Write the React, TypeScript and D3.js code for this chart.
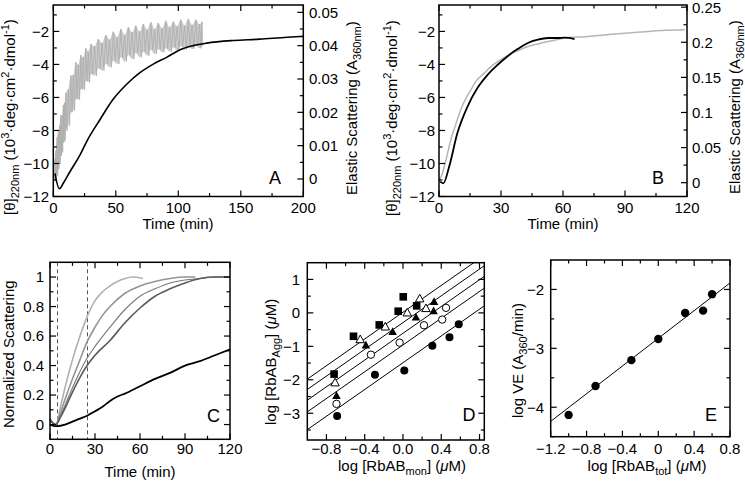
import React from "react";
import * as d3 from "d3";

const FONT = "'Liberation Sans', Arial, Helvetica, sans-serif";

// ---------- Panel A ----------
const aCdTime = [1.3, 4.8, 8, 13.3, 21.3, 26.7, 37.3, 48, 58.7, 69.3, 80, 90.7, 101, 112, 122.7, 144, 165, 187, 200];
const aCdValue = [-10.6, -11.53, -11.2, -10.5, -9.5, -8.67, -7.35, -6.1, -5.2, -4.5, -3.98, -3.57, -3.12, -2.86, -2.71, -2.55, -2.47, -2.35, -2.3];
const aScTime = [1, 2, 3, 4, 5, 6, 7, 8, 9, 10, 12, 14, 16, 18, 20, 22, 24, 26, 28, 30, 33, 36, 39, 42, 45, 48, 51, 54, 57, 60, 63, 66, 69, 72, 75, 78, 81, 84, 87, 90, 93, 96, 99, 102, 105, 108, 111, 114, 117, 119];
const aScHigh = [0.006, 0.0085, 0.0125, 0.014, 0.016, 0.0192, 0.019, 0.0222, 0.0228, 0.0258, 0.027, 0.031, 0.0312, 0.035, 0.0342, 0.0372, 0.0365, 0.0392, 0.0382, 0.0405, 0.0398, 0.042, 0.0408, 0.0432, 0.0418, 0.0442, 0.0425, 0.045, 0.0432, 0.0455, 0.044, 0.046, 0.0442, 0.0465, 0.0448, 0.047, 0.045, 0.0468, 0.0452, 0.0475, 0.0455, 0.0472, 0.0458, 0.0478, 0.046, 0.048, 0.0462, 0.0478, 0.0465, 0.0472];
const aScLow = [-0.0005, 0.0005, 0.001, 0.003, 0.0045, 0.007, 0.008, 0.011, 0.0115, 0.0145, 0.016, 0.02, 0.0205, 0.024, 0.0238, 0.027, 0.0268, 0.0295, 0.029, 0.0315, 0.031, 0.0332, 0.0325, 0.0345, 0.0335, 0.0355, 0.0345, 0.0365, 0.0352, 0.0372, 0.036, 0.0378, 0.0365, 0.0382, 0.037, 0.0388, 0.0375, 0.039, 0.038, 0.0392, 0.0382, 0.0395, 0.0385, 0.0398, 0.0388, 0.0398, 0.039, 0.04, 0.0392, 0.0398];

// ---------- Panel B ----------
const bCdTime = [0.5, 2.1, 4.9, 8.9, 13.8, 18.6, 23.5, 28.4, 33.2, 38, 43, 47.8, 52.7, 57.5, 61, 65.6];
const bCdValue = [-11.1, -11.2, -10.2, -8.16, -6.55, -5.43, -4.63, -4.02, -3.5, -3.07, -2.7, -2.5, -2.4, -2.4, -2.38, -2.46];
const bScTime = [0, 1.5, 3, 5.7, 8, 10.5, 13, 15.4, 18, 21.9, 25, 28.4, 31.5, 34.8, 39, 43, 47, 51, 56, 60.8, 70.5, 80.2, 90, 99.7, 109.4, 119];
const bScValue = [0.0014, 0.012, 0.0276, 0.061, 0.082, 0.104, 0.12, 0.132, 0.145, 0.156, 0.165, 0.1725, 0.178, 0.184, 0.189, 0.194, 0.197, 0.2, 0.203, 0.206, 0.208, 0.2105, 0.213, 0.215, 0.217, 0.218];

// ---------- Panel C ----------
const c1Time = [0, 2, 4, 7, 10, 15, 20, 24.7, 30, 35, 40, 45, 50, 55, 62];
const c1Value = [0.04, 0.01, 0.0, 0.12, 0.25, 0.44, 0.6, 0.73, 0.84, 0.9, 0.94, 0.97, 0.99, 1.0, 0.99];
const c2Time = [0, 2, 4, 7, 10, 15, 20, 24.7, 30, 35, 40, 50, 60, 70, 80, 90, 97];
const c2Value = [0.04, 0.01, 0.0, 0.08, 0.17, 0.31, 0.44, 0.56, 0.66, 0.74, 0.8, 0.89, 0.94, 0.97, 0.99, 1.0, 1.0];
const c3Time = [0, 2, 4, 7, 10, 15, 20, 24.7, 30, 40, 50, 60, 70, 80, 90, 100, 110, 120];
const c3Value = [0.03, 0.01, 0.0, 0.06, 0.13, 0.25, 0.36, 0.45, 0.53, 0.66, 0.78, 0.87, 0.92, 0.96, 0.98, 0.99, 1.0, 1.0];
const c4Value = [0.03, 0.01, 0.0, 0.05, 0.11, 0.22, 0.32, 0.4, 0.47, 0.57, 0.69, 0.79, 0.87, 0.92, 0.96, 0.99, 1.0, 1.0];
const c5Time = [0, 3, 5, 10, 15, 20, 24.7, 30, 35, 40, 45, 50, 60, 70, 80, 90, 100, 110, 120];
const c5Value = [0.0, -0.01, -0.01, 0.0, 0.02, 0.04, 0.06, 0.09, 0.12, 0.16, 0.19, 0.21, 0.26, 0.31, 0.35, 0.4, 0.43, 0.47, 0.51];
const cDashTimes = [5, 25];

// ---------- Panel D ----------
const dSquareX = [-0.72, -0.517, -0.248, -0.05, 0.003, 0.143];
const dSquareY = [-1.83, -0.7, -0.36, 0.05, 0.48, 0.21];
const dOpenTriX = [-0.71, -0.447, -0.185, 0.045, 0.175, 0.24];
const dOpenTriY = [-2.09, -0.8, -0.42, 0.0, 0.42, 0.13];
const dFillTriX = [-0.695, -0.388, -0.108, 0.136, 0.325, 0.32];
const dFillTriY = [-2.48, -0.97, -0.57, -0.14, 0.33, 0.05];
const dOpenCircX = [-0.695, -0.335, -0.035, 0.22, 0.45, 0.41];
const dOpenCircY = [-2.72, -1.25, -0.89, -0.37, 0.15, -0.2];
const dFillCircX = [-0.688, -0.293, 0.014, 0.307, 0.486, 0.583];
const dFillCircY = [-3.08, -1.85, -1.72, -0.98, -0.73, -0.34];
const dFitSlope = 2.0;
const dFitIntercepts = [0.02, -0.29, -0.61, -0.96, -1.49];

// ---------- Panel E ----------
const eX = [-1.0, -0.7, -0.3, 0.0, 0.3, 0.5, 0.6];
const eY = [-4.13, -3.64, -3.2, -2.84, -2.4, -2.36, -2.08];
const eFitX = [-1.2, 0.8];
const eFitY = [-4.24, -1.89];

type Sc = d3.ScaleLinear<number, number>;
const MAJ = 6;
const MIN = 3.5;
const minus = (s: string) => s.replace("-", "\u2212");

type Seg = [string, "n" | "sub" | "sup" | "it"];
function Rich({ segs }: { segs: Seg[] }) {
  let cur = 0;
  return (
    <>
      {segs.map(([t, m], i) => {
        const target = m === "sub" ? 4 : m === "sup" ? -6 : 0;
        const dy = target - cur;
        cur = target;
        return (
          <tspan key={i} dy={dy} fontSize={m === "sub" || m === "sup" ? 11 : 15} fontStyle={m === "it" ? "italic" : "normal"}>
            {t}
          </tspan>
        );
      })}
    </>
  );
}

function XTicks({ sx, top, bottom, majors, minors, labels, labelY }: { sx: Sc; top: number; bottom: number; majors: number[]; minors: number[]; labels: string[]; labelY: number }) {
  return (
    <g stroke="#000" strokeWidth={1.2}>
      {majors.map((v, i) => (
        <g key={"M" + i}>
          <line x1={sx(v)} x2={sx(v)} y1={bottom} y2={bottom - MAJ} />
          <line x1={sx(v)} x2={sx(v)} y1={top} y2={top + MAJ} />
          <text x={sx(v)} y={labelY} textAnchor="middle" stroke="none" fill="#000" fontSize={15}>
            {labels[i]}
          </text>
        </g>
      ))}
      {minors.map((v, i) => (
        <g key={"m" + i}>
          <line x1={sx(v)} x2={sx(v)} y1={bottom} y2={bottom - MIN} />
          <line x1={sx(v)} x2={sx(v)} y1={top} y2={top + MIN} />
        </g>
      ))}
    </g>
  );
}

function YTicks({ sy, x, dir, majors, minors, labels, labelX, anchor }: { sy: Sc; x: number; dir: number; majors: number[]; minors: number[]; labels: string[] | null; labelX: number; anchor: string }) {
  return (
    <g stroke="#000" strokeWidth={1.2}>
      {majors.map((v, i) => (
        <g key={"M" + i}>
          <line x1={x} x2={x + dir * MAJ} y1={sy(v)} y2={sy(v)} />
          {labels && (
            <text x={labelX} y={sy(v)} dy="0.36em" textAnchor={anchor} stroke="none" fill="#000" fontSize={15}>
              {labels[i]}
            </text>
          )}
        </g>
      ))}
      {minors.map((v, i) => (
        <line key={"m" + i} x1={x} x2={x + dir * MIN} y1={sy(v)} y2={sy(v)} />
      ))}
    </g>
  );
}

function Frame({ sx, sy }: { sx: Sc; sy: Sc }) {
  const [x0, x1] = sx.range();
  const [y0, y1] = sy.range();
  return <rect x={x0} y={y1} width={x1 - x0} height={y0 - y1} fill="none" stroke="#000" strokeWidth={1.5} />;
}

function VTitle({ x, y, segs }: { x: number; y: number; segs: Seg[] }) {
  return (
    <text transform={`translate(${x},${y}) rotate(-90)`} fontSize={15} textAnchor="start" fill="#000">
      <Rich segs={segs} />
    </text>
  );
}

const lineGen = (sx: Sc, sy: Sc, xs: number[], ys: number[]) =>
  d3.line<number>().x((_, i) => sx(xs[i])).y((d) => sy(d)).curve(d3.curveMonotoneX)(ys) || "";

const cdTitle: Seg[] = [["[θ]", "n"], ["220nm", "sub"], [" (10", "n"], ["3", "sup"], ["·deg·cm", "n"], ["2", "sup"], ["·dmol", "n"], ["-1", "sup"], [")", "n"]];
const scTitle: Seg[] = [["Elastic Scattering (A", "n"], ["360nm", "sub"], [")", "n"]];

function PanelA() {
  const sx = d3.scaleLinear().domain([0, 200]).range([53.3, 303.3]);
  const syL = d3.scaleLinear().domain([-12, -0.4]).range([196.5, 5]);
  const syR = d3.scaleLinear().domain([-0.00525, 0.0522]).range([196.5, 5]);
  const area =
    d3
      .area<number>()
      .x((_, i) => sx(aScTime[i]))
      .y0((_, i) => syR(aScLow[i]))
      .y1((d) => syR(d))
      .curve(d3.curveMonotoneX)(aScHigh) || "";
  // noisy trace: zig-zag between the read upper and lower extents
  const zig: [number, number][] = [];
  aScTime.forEach((t, i) => {
    const next = i < aScTime.length - 1 ? aScTime[i + 1] : t + 1;
    zig.push([sx(t), syR(aScHigh[i])]);
    zig.push([sx((t + next) / 2), syR(aScLow[i])]);
  });
  const zigPath = d3.line()(zig) || "";
  const lMaj = [-12, -10, -8, -6, -4, -2];
  const rMaj = [0, 0.01, 0.02, 0.03, 0.04, 0.05];
  return (
    <g>
      <path d={area} fill="#cbcbcb" />
      <path d={zigPath} fill="none" stroke="#acacac" strokeWidth={0.8} />
      <path d={lineGen(sx, syL, aCdTime, aCdValue)} fill="none" stroke="#000" strokeWidth={1.6} />
      <Frame sx={sx} sy={syL} />
      <XTicks sx={sx} top={5} bottom={196.5} majors={[0, 50, 100, 150, 200]} minors={[25, 75, 125, 175]} labels={["0", "50", "100", "150", "200"]} labelY={213} />
      <YTicks sy={syL} x={53.3} dir={1} majors={lMaj} minors={[-11, -9, -7, -5, -3, -1]} labels={lMaj.map((v) => minus(String(v)))} labelX={49} anchor="end" />
      <YTicks sy={syR} x={303.3} dir={-1} majors={rMaj} minors={[0.005, 0.015, 0.025, 0.035, 0.045]} labels={["0", "0.01", "0.02", "0.03", "0.04", "0.05"]} labelX={309} anchor="start" />
      <text x={178} y={229} textAnchor="middle" fontSize={15}>Time (min)</text>
      <text x={275} y={184} textAnchor="middle" fontSize={18}>A</text>
      <VTitle x={15} y={215} segs={cdTitle} />
      <VTitle x={357} y={195} segs={scTitle} />
    </g>
  );
}

function PanelB() {
  const sx = d3.scaleLinear().domain([0, 120]).range([439, 687]);
  const syL = d3.scaleLinear().domain([-12, -0.4]).range([196.5, 5]);
  const syR = d3.scaleLinear().domain([-0.0197, 0.2531]).range([196.5, 5]);
  const lMaj = [-12, -10, -8, -6, -4, -2];
  return (
    <g>
      <path d={lineGen(sx, syR, bScTime, bScValue)} fill="none" stroke="#b5b5b5" strokeWidth={1.5} />
      <path d={lineGen(sx, syL, bCdTime, bCdValue)} fill="none" stroke="#000" strokeWidth={1.8} />
      <Frame sx={sx} sy={syL} />
      <XTicks sx={sx} top={5} bottom={196.5} majors={[0, 30, 60, 90, 120]} minors={[15, 45, 75, 105]} labels={["0", "30", "60", "90", "120"]} labelY={213} />
      <YTicks sy={syL} x={439} dir={1} majors={lMaj} minors={[-11, -9, -7, -5, -3, -1]} labels={lMaj.map((v) => minus(String(v)))} labelX={435} anchor="end" />
      <YTicks sy={syR} x={687} dir={-1} majors={[0, 0.05, 0.1, 0.15, 0.2, 0.25]} minors={[0.025, 0.075, 0.125, 0.175, 0.225]} labels={["0", "0.05", "0.1", "0.15", "0.2", "0.25"]} labelX={692} anchor="start" />
      <text x={563} y={229} textAnchor="middle" fontSize={15}>Time (min)</text>
      <text x={658} y={184} textAnchor="middle" fontSize={18}>B</text>
      <VTitle x={397} y={216} segs={cdTitle} />
      <VTitle x={740} y={194} segs={scTitle} />
    </g>
  );
}

function PanelC() {
  const sx = d3.scaleLinear().domain([0, 120]).range([50, 230]);
  const sy = d3.scaleLinear().domain([-0.1, 1.1]).range([439.3, 262.3]);
  const yMaj = [0, 0.2, 0.4, 0.6, 0.8, 1];
  const yMin = [0.1, 0.3, 0.5, 0.7, 0.9];
  return (
    <g>
      {cDashTimes.map((t) => (
        <line key={t} x1={sx(t)} x2={sx(t)} y1={262.3} y2={439.3} stroke="#555" strokeWidth={1} strokeDasharray="4,3" />
      ))}
      <path d={lineGen(sx, sy, c1Time, c1Value)} fill="none" stroke="#b0b0b0" strokeWidth={1.6} />
      <path d={lineGen(sx, sy, c2Time, c2Value)} fill="none" stroke="#959595" strokeWidth={1.6} />
      <path d={lineGen(sx, sy, c3Time, c3Value)} fill="none" stroke="#777" strokeWidth={1.1} />
      <path d={lineGen(sx, sy, c3Time, c4Value)} fill="none" stroke="#5a5a5a" strokeWidth={1.6} />
      <path d={lineGen(sx, sy, c5Time, c5Value)} fill="none" stroke="#000" strokeWidth={1.8} />
      <Frame sx={sx} sy={sy} />
      <XTicks sx={sx} top={262.3} bottom={439.3} majors={[0, 30, 60, 90, 120]} minors={[15, 45, 75, 105]} labels={["0", "30", "60", "90", "120"]} labelY={454} />
      <YTicks sy={sy} x={50} dir={1} majors={yMaj} minors={yMin} labels={["0", "0.2", "0.4", "0.6", "0.8", "1"]} labelX={44} anchor="end" />
      <YTicks sy={sy} x={230} dir={-1} majors={yMaj} minors={yMin} labels={null} labelX={0} anchor="start" />
      <text x={140} y={477} textAnchor="middle" fontSize={15}>Time (min)</text>
      <text x={213.5} y={422} textAnchor="middle" fontSize={18}>C</text>
      <VTitle x={14} y={428} segs={[["Normalized Scattering", "n"]]} />
    </g>
  );
}

function triPath(cx: number, cy: number, s: number) {
  const h = s * 0.9;
  return `M${cx},${cy - h * 0.6} L${cx + s / 2},${cy + h * 0.4} L${cx - s / 2},${cy + h * 0.4} Z`;
}

function PanelD() {
  const sx = d3.scaleLinear().domain([-1.0, 0.85]).range([307.3, 484.3]);
  const sy = d3.scaleLinear().domain([-3.8, 1.5]).range([440, 262.7]);
  const yMaj = [-3, -2, -1, 0, 1];
  return (
    <g>
      <defs>
        <clipPath id="clipD">
          <rect x={307.3} y={262.7} width={177} height={177.3} />
        </clipPath>
      </defs>
      <g clipPath="url(#clipD)">
        {dFitIntercepts.map((b, i) => (
          <line key={i} x1={sx(-1.0)} x2={sx(0.85)} y1={sy(b + dFitSlope * -1.0)} y2={sy(b + dFitSlope * 0.85)} stroke="#000" strokeWidth={1} />
        ))}
      </g>
      {dSquareX.map((x, i) => (
        <rect key={"s" + i} x={sx(x) - 3.8} y={sy(dSquareY[i]) - 3.8} width={7.6} height={7.6} fill="#000" />
      ))}
      {dOpenTriX.map((x, i) => (
        <path key={"ot" + i} d={triPath(sx(x), sy(dOpenTriY[i]), 8.5)} fill="#fff" stroke="#000" strokeWidth={1} />
      ))}
      {dFillTriX.map((x, i) => (
        <path key={"ft" + i} d={triPath(sx(x), sy(dFillTriY[i]), 8.5)} fill="#000" />
      ))}
      {dOpenCircX.map((x, i) => (
        <circle key={"oc" + i} cx={sx(x)} cy={sy(dOpenCircY[i])} r={3.7} fill="#fff" stroke="#000" strokeWidth={1} />
      ))}
      {dFillCircX.map((x, i) => (
        <circle key={"fc" + i} cx={sx(x)} cy={sy(dFillCircY[i])} r={4} fill="#000" />
      ))}
      <Frame sx={sx} sy={sy} />
      <XTicks sx={sx} top={262.7} bottom={440} majors={[-0.8, -0.4, 0, 0.4, 0.8]} minors={[-0.6, -0.2, 0.2, 0.6]} labels={["\u22120.8", "\u22120.4", "0.0", "0.4", "0.8"]} labelY={454} />
      <YTicks sy={sy} x={307.3} dir={1} majors={yMaj} minors={[-3.5, -2.5, -1.5, -0.5, 0.5]} labels={yMaj.map((v) => minus(String(v)))} labelX={300} anchor="end" />
      <YTicks sy={sy} x={484.3} dir={-1} majors={yMaj} minors={[-3.5, -2.5, -1.5, -0.5, 0.5]} labels={null} labelX={0} anchor="start" />
      <text x={402} y={471} textAnchor="middle" fontSize={15}>
        <Rich segs={[["log [RbAB", "n"], ["mon", "sub"], ["] (", "n"], ["μ", "it"], ["M)", "n"]]} />
      </text>
      <text x={469} y={421} textAnchor="middle" fontSize={18}>D</text>
      <VTitle x={276} y={425} segs={[["log [RbAB", "n"], ["Agg", "sub"], ["] (", "n"], ["μ", "it"], ["M)", "n"]]} />
    </g>
  );
}

function PanelE() {
  const sx = d3.scaleLinear().domain([-1.2, 0.8]).range([550.7, 730]);
  const sy = d3.scaleLinear().domain([-4.5, -1.5]).range([436.7, 260]);
  const yMaj = [-4, -3, -2];
  return (
    <g>
      <line x1={sx(eFitX[0])} x2={sx(eFitX[1])} y1={sy(eFitY[0])} y2={sy(eFitY[1])} stroke="#000" strokeWidth={1} />
      {eX.map((x, i) => (
        <circle key={i} cx={sx(x)} cy={sy(eY[i])} r={4.2} fill="#000" />
      ))}
      <Frame sx={sx} sy={sy} />
      <XTicks sx={sx} top={260} bottom={436.7} majors={[-1.2, -0.8, -0.4, 0, 0.4, 0.8]} minors={[-1.0, -0.6, -0.2, 0.2, 0.6]} labels={["\u22121.2", "\u22120.8", "\u22120.4", "0", "0.4", "0.8"]} labelY={454} />
      <YTicks sy={sy} x={550.7} dir={1} majors={yMaj} minors={[-4.5, -3.5, -2.5]} labels={yMaj.map((v) => minus(String(v)))} labelX={544} anchor="end" />
      <YTicks sy={sy} x={730} dir={-1} majors={yMaj} minors={[-4.5, -3.5, -2.5]} labels={null} labelX={0} anchor="start" />
      <text x={647} y={471} textAnchor="middle" fontSize={15}>
        <Rich segs={[["log [RbAB", "n"], ["tot", "sub"], ["] (", "n"], ["μ", "it"], ["M)", "n"]]} />
      </text>
      <text x={711} y={421} textAnchor="middle" fontSize={18}>E</text>
      <VTitle x={523} y={418} segs={[["log VE (A", "n"], ["360", "sub"], ["/min)", "n"]]} />
    </g>
  );
}

export default function App() {
  return (
    <svg width={745} height={482} style={{ position: "absolute", left: 0, top: 0, background: "#fff" }} fontFamily={FONT}>
      <rect width={745} height={482} fill="#fff" />
      <PanelA />
      <PanelB />
      <PanelC />
      <PanelD />
      <PanelE />
    </svg>
  );
}
